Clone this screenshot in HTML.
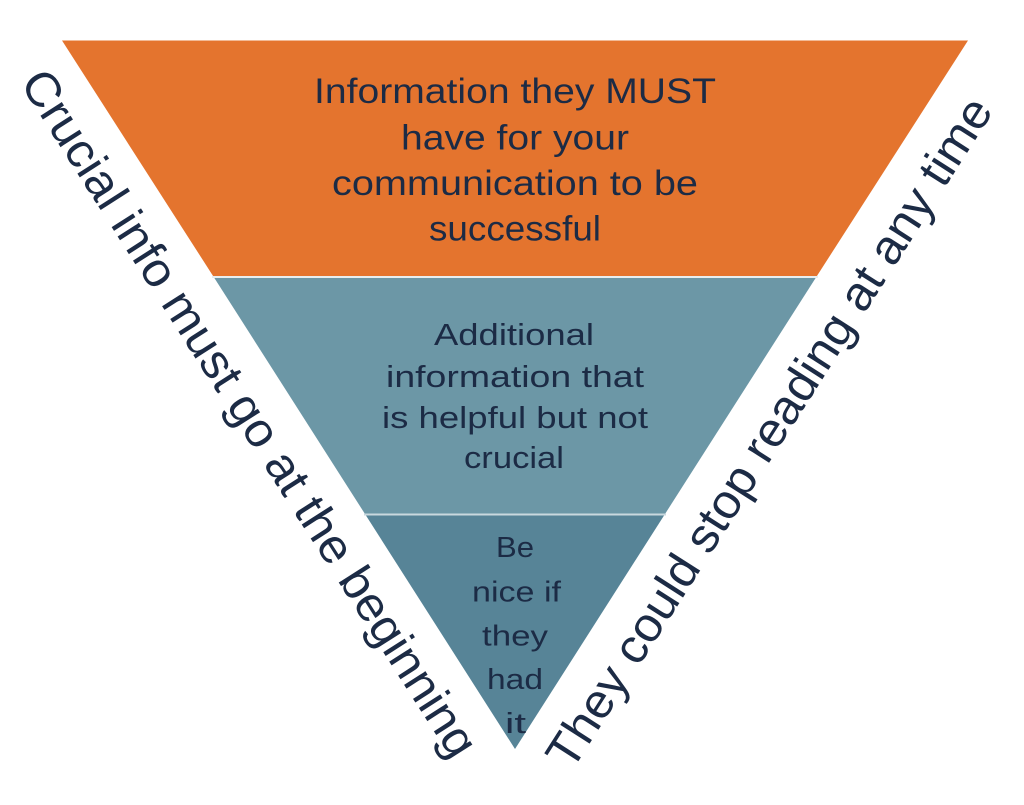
<!DOCTYPE html>
<html>
<head>
<meta charset="utf-8">
<style>
  html, body { margin: 0; padding: 0; background: #ffffff; }
  body { width: 1024px; height: 805px; overflow: hidden; }
  svg { display: block; }
  text { font-family: "Liberation Sans", sans-serif; fill: #1c2b45; }
</style>
</head>
<body>
<svg width="1024" height="805" viewBox="0 0 1024 805" xmlns="http://www.w3.org/2000/svg">
  <rect width="1024" height="805" fill="#ffffff"/>
  <!-- bands -->
  <polygon points="62,40.5 968,40.5 816.6,276.5 213.4,276.5" fill="#e4742e"/>
  <polygon points="213.4,276.5 816.6,276.5 665,514 365,514" fill="#6c97a6"/>
  <polygon points="365,514 665,514 515,749" fill="#578497"/>
  <!-- separators -->
  <line x1="212" y1="277" x2="818" y2="277" stroke="#e8eef0" stroke-width="2"/>
  <line x1="364" y1="514.5" x2="666" y2="514.5" stroke="#c9d8de" stroke-width="2"/>

  <!-- top text -->
  <g font-size="35">
    <text x="314" y="103" textLength="402" lengthAdjust="spacingAndGlyphs">Information they MUST</text>
    <text x="401" y="149.5" textLength="228" lengthAdjust="spacingAndGlyphs">have for your</text>
    <text x="332" y="195" textLength="366" lengthAdjust="spacingAndGlyphs">communication to be</text>
    <text x="429" y="240.5" textLength="172" lengthAdjust="spacingAndGlyphs">successful</text>
  </g>

  <!-- middle text -->
  <g font-size="31">
    <text x="434" y="345" textLength="160" lengthAdjust="spacingAndGlyphs">Additional</text>
    <text x="386" y="387" textLength="258" lengthAdjust="spacingAndGlyphs">information that</text>
    <text x="382" y="428" textLength="266" lengthAdjust="spacingAndGlyphs">is helpful but not</text>
    <text x="464" y="468" textLength="100" lengthAdjust="spacingAndGlyphs">crucial</text>
  </g>

  <!-- bottom text -->
  <g font-size="29">
    <text x="496" y="557" textLength="38" lengthAdjust="spacingAndGlyphs">Be</text>
    <text x="472" y="601.5" textLength="89" lengthAdjust="spacingAndGlyphs">nice if</text>
    <text x="482" y="645.5" textLength="66" lengthAdjust="spacingAndGlyphs">they</text>
    <text x="487" y="689" textLength="56" lengthAdjust="spacingAndGlyphs">had</text>
    <text x="505" y="733" textLength="21" lengthAdjust="spacingAndGlyphs">it</text>
  </g>

  <!-- left rotated text -->
  <text font-size="48" transform="translate(19.3,82.7) rotate(57.42)" textLength="805" lengthAdjust="spacingAndGlyphs">Crucial info must go at the beginning</text>

  <!-- right rotated text -->
  <text font-size="48" transform="translate(571.5,772) rotate(-57.42)" textLength="785" lengthAdjust="spacingAndGlyphs">They could stop reading at any time</text>
</svg>
</body>
</html>
